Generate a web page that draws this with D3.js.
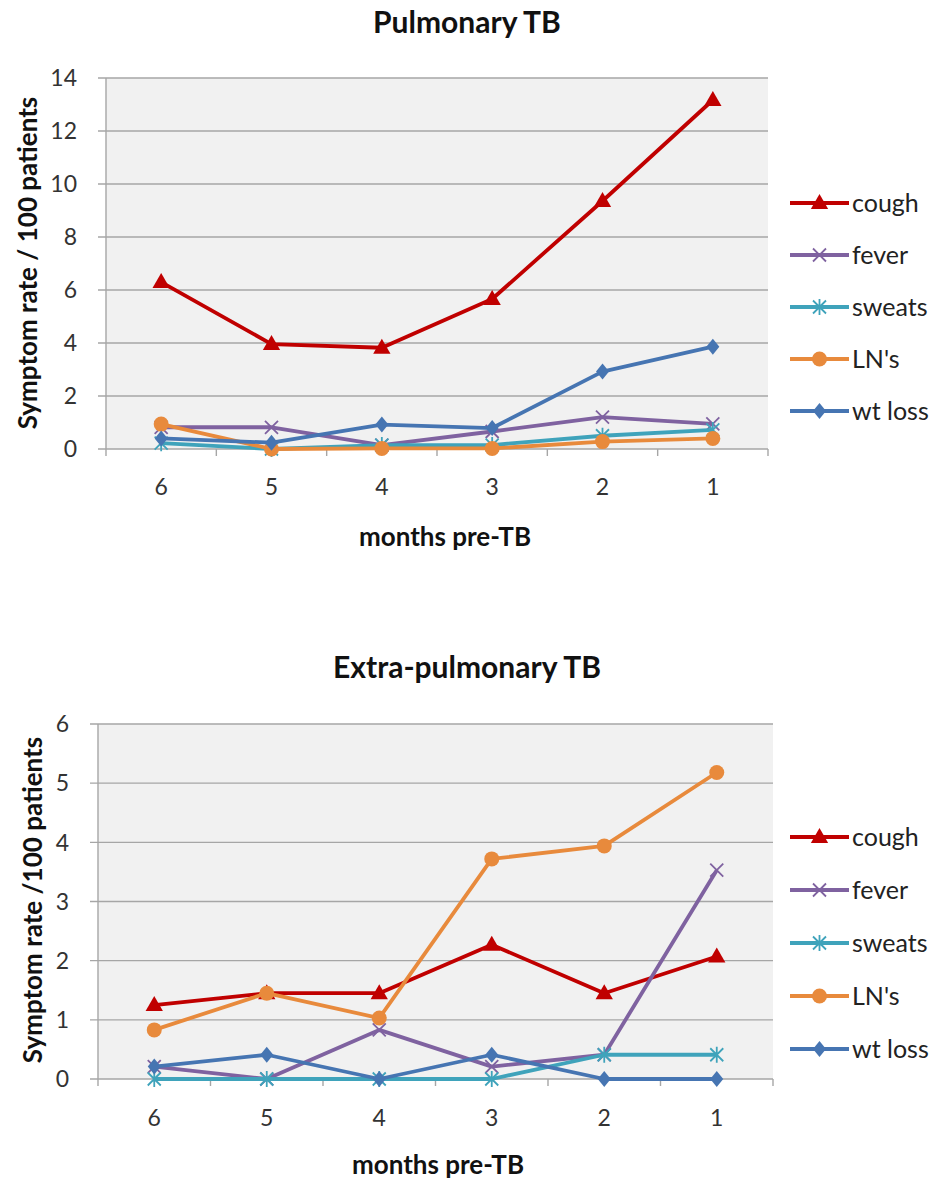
<!DOCTYPE html>
<html><head><meta charset="utf-8">
<script src="https://cdn.jsdelivr.net/npm/d3@7"></script>
<style>body{margin:0;background:#fff}svg{display:block}text{font-family:Lato,"Open Sans",sans-serif}</style>
</head><body>
<script>
const categories = ["6","5","4","3","2","1"];
const seriesNames = ["cough","fever","sweats","LN's","wt loss"];
const pulmCough = [6.3,3.96,3.82,5.66,9.36,13.17];
const pulmFever = [0.82,0.82,0.15,0.66,1.2,0.95];
const pulmSweats = [0.22,0.0,0.15,0.15,0.5,0.72];
const pulmLN = [0.94,0.0,0.02,0.02,0.28,0.4];
const pulmWt = [0.4,0.24,0.92,0.79,2.92,3.86];
const extraCough = [1.25,1.45,1.45,2.27,1.45,2.07];
const extraFever = [0.21,0.0,0.83,0.21,0.41,3.53];
const extraSweats = [0,0,0,0,0.41,0.41];
const extraLN = [0.83,1.45,1.03,3.72,3.94,5.18];
const extraWt = [0.21,0.41,0,0.41,0,0];
const pulmTicks = [0,2,4,6,8,10,12,14];
const extraTicks = [0,1,2,3,4,5,6];
const colors = ["#c00000","#7f62a0","#3fa3bb","#e88a3c","#4675b2"];
const markers = ["triangle","x","star","circle","diamond"];

const W=941,H=1183;
const svg=d3.select("body").append("svg").attr("width",W).attr("height",H);

function marker(g,type,x,y,c){
  if(type==="triangle"){
    g.append("path").attr("d",d3.symbol(d3.symbolTriangle,130)()).attr("transform",`translate(${x},${y+1})`).attr("fill",c);
  } else if(type==="circle"){
    g.append("circle").attr("cx",x).attr("cy",y).attr("r",7.5).attr("fill",c);
  } else if(type==="diamond"){
    g.append("path").attr("d",`M${x},${y-8}L${x+6.5},${y}L${x},${y+8}L${x-6.5},${y}Z`).attr("fill",c);
  } else if(type==="x"){
    const s=6.5;
    g.append("path").attr("d",`M${x-s},${y-s}L${x+s},${y+s}M${x-s},${y+s}L${x+s},${y-s}`).attr("stroke",c).attr("stroke-width",1.8).attr("fill","none");
  } else if(type==="star"){
    const s=6.5;
    g.append("path").attr("d",`M${x-s},${y-s}L${x+s},${y+s}M${x-s},${y+s}L${x+s},${y-s}M${x},${y-s-1.5}L${x},${y+s+1.5}`).attr("stroke",c).attr("stroke-width",1.8).attr("fill","none");
  }
}

function chart(o){
  const g=svg.append("g");
  const x=d3.scaleBand().domain(categories).range([o.left,o.right]);
  const y=d3.scaleLinear().domain([0,o.max]).range([o.bottom,o.top]);
  g.append("rect").attr("x",o.left).attr("y",o.top).attr("width",o.right-o.left).attr("height",o.bottom-o.top).attr("fill","#f1f1f1");
  g.append("g").selectAll("line").data(o.ticks).join("line")
    .attr("x1",o.left-8).attr("x2",o.right).attr("y1",d=>y(d)).attr("y2",d=>y(d))
    .attr("stroke","#a6a6a6").attr("stroke-width",1.4);
  g.append("line").attr("x1",o.left).attr("x2",o.left).attr("y1",o.top).attr("y2",o.bottom+7).attr("stroke","#a6a6a6").attr("stroke-width",1.4);
  const bounds=categories.map(c=>x(c)).concat([o.right]);
  g.append("g").selectAll("line").data(bounds.slice(1)).join("line")
    .attr("x1",d=>d).attr("x2",d=>d).attr("y1",o.bottom).attr("y2",o.bottom+7).attr("stroke","#a6a6a6").attr("stroke-width",1.4);
  g.append("g").selectAll("text").data(o.ticks).join("text")
    .attr("x",o.left-29).attr("y",d=>y(d)).attr("dy","0.36em").attr("text-anchor","end")
    .attr("font-size",23).attr("fill","#333").text(d=>d);
  g.append("g").selectAll("text").data(categories).join("text")
    .attr("x",d=>x(d)+x.bandwidth()/2).attr("y",o.bottom+o.xTickDy).attr("text-anchor","middle")
    .attr("font-size",23).attr("fill","#333").text(d=>d);
  o.data.forEach((vals,i)=>{
    const line=d3.line().x((d,j)=>x(categories[j])+x.bandwidth()/2).y(d=>y(d));
    g.append("path").attr("d",line(vals)).attr("fill","none").attr("stroke",colors[i]).attr("stroke-width",3.8).attr("stroke-linejoin","round");
    vals.forEach((v,j)=>marker(g,markers[i],x(categories[j])+x.bandwidth()/2,y(v),colors[i]));
  });
  g.append("text").attr("x",467).attr("y",o.titleY).attr("text-anchor","middle").attr("font-size",30).attr("font-weight","bold").attr("fill","#111").text(o.title);
  g.append("text").attr("x",o.xLabelX).attr("y",o.xLabelY).attr("text-anchor","middle").attr("font-size",26).attr("font-weight","bold").attr("fill","#111").text("months pre-TB");
  g.append("text").attr("transform",`translate(${o.yLabelX},${o.yLabelY}) rotate(-90)`).attr("text-anchor","middle").attr("font-size",26).attr("font-weight","bold").attr("fill","#111").text(o.yLabel);
  seriesNames.forEach((n,i)=>{
    const ly=o.legendY+i*o.legendStep;
    g.append("line").attr("x1",790).attr("x2",849).attr("y1",ly).attr("y2",ly).attr("stroke",colors[i]).attr("stroke-width",3.8);
    marker(g,markers[i],819.5,ly,colors[i]);
    g.append("text").attr("x",852).attr("y",ly).attr("dy","0.36em").attr("font-size",25).attr("fill","#222").text(n);
  });
}

chart({left:106,right:768,top:78,bottom:449,max:14,ticks:pulmTicks,xTickDy:46,
  data:[pulmCough,pulmFever,pulmSweats,pulmLN,pulmWt],
  title:"Pulmonary TB",titleY:33,xLabelX:445,xLabelY:546,yLabel:"Symptom rate / 100 patients",yLabelX:37,yLabelY:263,
  legendY:203,legendStep:52});
chart({left:98,right:773,top:724,bottom:1079,max:6,ticks:extraTicks,xTickDy:47,
  data:[extraCough,extraFever,extraSweats,extraLN,extraWt],
  title:"Extra-pulmonary TB",titleY:678,xLabelX:438,xLabelY:1174,yLabel:"Symptom rate /100 patients",yLabelX:42,yLabelY:900,
  legendY:837,legendStep:53});
</script>
</body></html>
